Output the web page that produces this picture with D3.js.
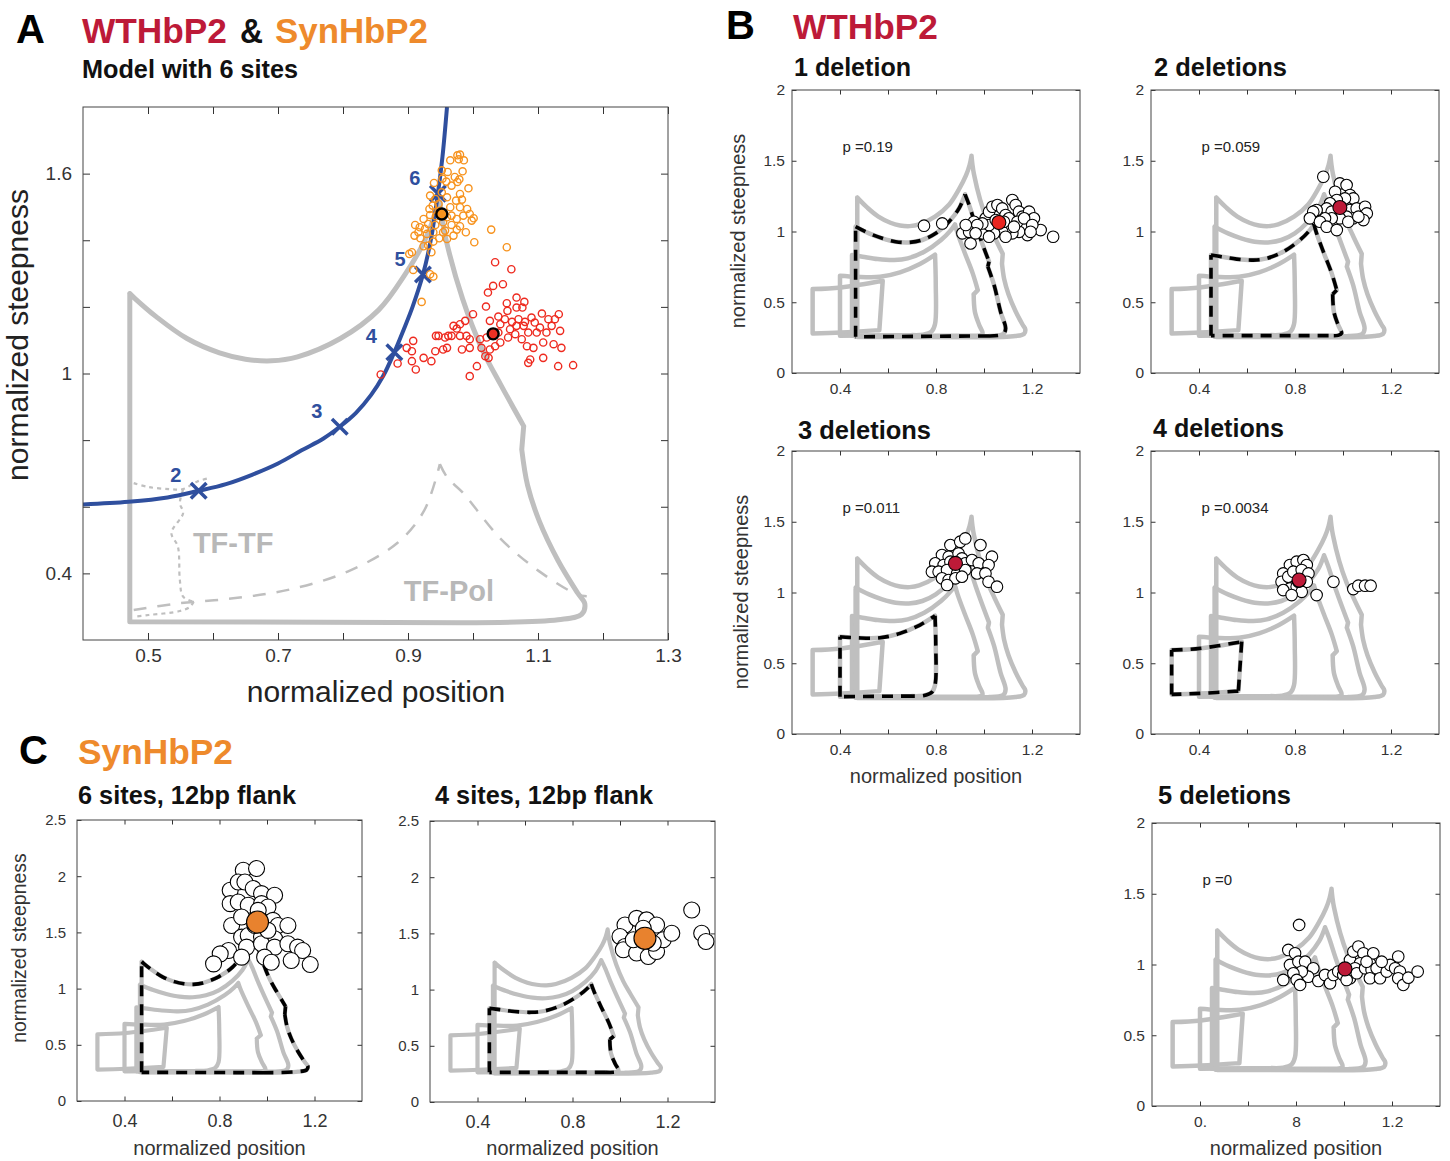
<!DOCTYPE html>
<html>
<head>
<meta charset="utf-8">
<script src="https://cdn.jsdelivr.net/npm/d3@7"></script>
<style>
  body { margin: 0; background: #fff; }
</style>
</head>
<body>
<svg id="fig" width="1450" height="1161"></svg>
<script>
// ---------- model outlines, (normalized position, normalized steepness), by number of sites
// each outline is a list of pieces; pieces meet at the corners of the outline
const outlineSites = [2, 3, 4, 5, 6];
const outline2 = [
  [[0.286,0.280],[0.286,0.593]],
  [[0.286,0.593],[0.404,0.605],[0.578,0.652]],
  [[0.578,0.652],[0.564,0.303]],
  [[0.564,0.303],[0.404,0.287],[0.286,0.280]]];
const outline3 = [
  [[0.400,0.264],[0.400,0.687]],
  [[0.400,0.687],[0.469,0.680],[0.567,0.680],[0.650,0.711],[0.733,0.770],[0.796,0.836]],
  [[0.796,0.836],[0.799,0.629],[0.796,0.346],[0.782,0.294],[0.747,0.271],[0.700,0.268]],
  [[0.700,0.268],[0.400,0.264]]];
const outline4 = [
  [[0.450,0.264],[0.450,0.834]],
  [[0.450,0.834],[0.494,0.822],[0.557,0.805],[0.626,0.798],[0.682,0.810],[0.751,0.857],[0.821,0.940],[0.862,1.010],[0.879,1.050]],
  [[0.879,1.050],[0.890,0.987],[0.918,0.857],[0.953,0.704],[0.974,0.586]],
  [[0.974,0.586],[0.957,0.556]],
  [[0.957,0.556],[0.962,0.433],[0.980,0.339],[0.994,0.280],[0.980,0.266],[0.940,0.264]],
  [[0.940,0.264],[0.450,0.264]]];
const outline5 = [
  [[0.465,0.256],[0.465,1.034]],
  [[0.465,1.034],[0.521,0.987],[0.576,0.952],[0.632,0.928],[0.687,0.923],[0.743,0.940],[0.799,0.987],[0.854,1.069],[0.896,1.163],[0.921,1.262]],
  [[0.921,1.262],[0.938,1.187],[0.965,1.046],[1.000,0.881],[1.021,0.787]],
  [[1.021,0.787],[1.016,0.751]],
  [[1.016,0.751],[1.042,0.622],[1.069,0.433],[1.090,0.315],[1.080,0.275],[1.021,0.262]],
  [[1.021,0.262],[0.465,0.256]]];
const outline6 = [
  [[0.472,0.255],[0.472,1.240]],
  [[0.472,1.240],[0.480,1.225],[0.513,1.170],[0.560,1.105],[0.610,1.062],[0.650,1.043],[0.690,1.038],[0.730,1.050],
   [0.796,1.105],[0.855,1.191],[0.896,1.299],[0.925,1.396],[0.940,1.470],[0.948,1.535]],
  [[0.948,1.535],[0.952,1.470],[0.958,1.406],[0.984,1.224],[1.014,1.073],[1.043,0.965],[1.078,0.842]],
  [[1.078,0.842],[1.075,0.772]],
  [[1.075,0.772],[1.084,0.664],[1.102,0.557],[1.131,0.438],[1.161,0.341],[1.172,0.309],[1.167,0.277],[1.131,0.261],[0.984,0.252]],
  [[0.984,0.252],[0.472,0.255]]];
const outlines = [outline2, outline3, outline4, outline5, outline6];

// ---------- panel A
const aXTicks = [0.5, 0.6, 0.7, 0.8, 0.9, 1.0, 1.1, 1.2, 1.3];
const aXTickLabels = ["0.5", "", "0.7", "", "0.9", "", "1.1", "", "1.3"];
const aYTicks = [0.4, 0.6, 0.8, 1.0, 1.2, 1.4, 1.6];
const aYTickLabels = ["0.4", "", "", "1", "", "", "1.6"];
const tfTfEdge = [
  [[0.478,0.671],[0.501,0.659],[0.533,0.653],[0.554,0.653],[0.576,0.676],[0.594,0.686]],
  [[0.554,0.651],[0.549,0.611],[0.554,0.581],[0.536,0.521],[0.546,0.480],[0.549,0.380],[0.554,0.330],[0.570,0.315]],
  [[0.570,0.315],[0.565,0.300],[0.549,0.287],[0.501,0.275],[0.478,0.270]]];
const tfPolEdge = [
  [[0.478,0.290],[0.543,0.309],[0.631,0.325],[0.719,0.352],[0.808,0.406],[0.884,0.492],[0.925,0.589],[0.949,0.728]],
  [[0.949,0.728],[0.961,0.686],[0.984,0.643],[1.043,0.503],[1.102,0.406],[1.161,0.336],[1.175,0.331]]];
const siteCurve = [[0.400,0.607],[0.470,0.615],[0.530,0.628],[0.578,0.648],[0.620,0.668],[0.660,0.696],[0.700,0.730],
  [0.737,0.770],[0.770,0.805],[0.795,0.840],[0.820,0.882],[0.843,0.935],[0.862,0.993],[0.879,1.064],[0.893,1.130],
  [0.907,1.200],[0.923,1.297],[0.935,1.400],[0.946,1.540],[0.953,1.650],[0.960,1.800]];
const siteLabels = ["2", "3", "4", "5", "6"];
const sitePos = [0.578, 0.795, 0.879, 0.923, 0.946];
const siteSteep = [0.648, 0.840, 1.064, 1.297, 1.540];
const synPoints = [[0.965,1.640],[0.976,1.655],[0.980,1.657],[0.986,1.640],[0.978,1.643],[0.984,1.607],[0.961,1.605],
  [0.972,1.590],[0.979,1.583],[0.976,1.575],[0.952,1.610],[0.953,1.585],[0.959,1.576],[0.940,1.572],[0.967,1.564],
  [0.993,1.556],[0.980,1.539],[0.952,1.544],[0.934,1.534],[0.942,1.524],[0.960,1.529],[0.974,1.519],[0.983,1.522],
  [0.947,1.509],[0.938,1.504],[0.933,1.494],[0.965,1.499],[0.980,1.499],[0.991,1.494],[0.995,1.479],[1.001,1.466],
  [0.998,1.459],[0.967,1.474],[0.960,1.469],[0.943,1.472],[0.934,1.476],[0.924,1.464],[0.911,1.446],[0.918,1.439],
  [0.931,1.449],[0.942,1.446],[0.954,1.454],[0.967,1.446],[0.980,1.442],[0.989,1.424],[0.975,1.432],[0.957,1.429],
  [0.948,1.406],[0.960,1.404],[0.910,1.414],[0.919,1.406],[0.924,1.382],[0.939,1.396],[0.931,1.384],[0.936,1.364],
  [1.002,1.394],[0.902,1.359],[0.906,1.364],[0.908,1.311],[0.934,1.298],[0.939,1.291],[0.921,1.215],[1.028,1.432],
  [1.052,1.379],[0.985,1.474],[0.975,1.464],[0.947,1.486],[0.929,1.419],[0.916,1.424],[0.926,1.434],[0.970,1.414],
  [0.954,1.424],[0.939,1.424]];
const wtPoints = [[1.034,1.334],[1.059,1.313],[1.031,1.263],[1.046,1.268],[1.023,1.243],[1.052,1.211],[1.067,1.228],
  [1.079,1.215],[1.020,1.201],[1.053,1.188],[1.067,1.198],[1.076,1.198],[1.000,1.178],[1.026,1.158],[1.039,1.171],
  [1.049,1.163],[1.060,1.155],[1.070,1.163],[1.080,1.155],[1.090,1.168],[1.095,1.153],[1.106,1.180],[1.116,1.163],
  [1.126,1.163],[1.132,1.178],[0.988,1.158],[0.980,1.148],[0.970,1.143],[0.975,1.135],[0.962,1.113],[0.947,1.113],
  [0.957,1.108],[0.967,1.113],[0.980,1.113],[0.990,1.113],[0.995,1.103],[0.983,1.072],[0.995,1.077],[0.960,1.077],
  [0.943,1.113],[1.011,1.103],[1.021,1.108],[1.013,1.077],[1.026,1.072],[1.034,1.082],[1.019,1.052],[1.024,1.047],
  [1.042,1.093],[1.054,1.108],[1.065,1.118],[1.075,1.103],[1.085,1.123],[1.098,1.123],[1.103,1.138],[1.113,1.123],
  [1.083,1.082],[1.093,1.077],[1.108,1.093],[1.124,1.088],[1.136,1.077],[1.078,1.143],[1.067,1.143],[1.057,1.133],
  [1.042,1.148],[0.954,1.072],[0.942,1.067],[0.924,1.047],[0.936,1.037],[0.906,1.067],[0.908,1.098],[0.898,1.077],
  [0.906,1.037],[0.912,1.012],[1.006,1.022],[0.995,0.992],[1.088,1.042],[1.085,1.032],[1.108,1.047],[1.131,1.022],
  [1.154,1.025],[1.134,1.128],[1.121,1.143],[1.039,1.123],[0.858,0.997],[0.884,1.030]];
const synMean = [0.952, 1.479];
const wtMean = [1.031, 1.119];

// ---------- panel B (deletions of WTHbP2)
const bTitles = ["1 deletion", "2 deletions", "3 deletions", "4 deletions", "5 deletions"];
const bPValues = ["0.19", "0.059", "0.011", "0.0034", "0"];
const bHighlightSites = [5, 4, 3, 2, null];
const bXTicks = [0.4, 0.6, 0.8, 1.0, 1.2];
const bXTickLabels = ["0.4", "", "0.8", "", "1.2"];
const b5XTickLabels = ["0.", "", "8", "", "1.2"];
const bYTicks = [0, 0.5, 1, 1.5, 2];
const bYTickLabels = ["0", "0.5", "1", "1.5", "2"];
const b1Points = [[0.750,1.041],[0.826,1.057],[0.910,0.987],[0.944,0.916],[0.958,1.069],[0.993,0.987],[1.007,1.093],
  [1.021,1.140],[1.035,1.175],[1.056,1.187],[1.076,1.163],[1.090,1.116],[1.104,1.093],[1.118,1.222],[1.132,1.187],
  [1.146,1.140],[1.160,1.105],[1.188,1.140],[1.208,1.093],[1.236,1.010],[1.288,0.963],[1.174,1.046],[1.181,0.975],
  [1.146,0.998],[1.118,0.987],[1.097,1.022],[1.076,0.998],[1.042,0.987],[1.021,1.046],[0.993,1.057],[0.972,1.046],
  [0.938,0.998],[0.924,1.046],[1.049,1.081],[1.083,1.069],[1.139,1.069],[1.167,1.093],[1.125,1.034],[1.090,0.963],
  [1.021,0.963],[0.965,0.987],[1.201,1.046],[1.194,0.998]];
const b2Points = [[0.918,1.387],[0.987,1.340],[1.015,1.328],[0.967,1.281],[1.029,1.258],[1.043,1.234],[1.008,1.234],
  [0.974,1.222],[0.946,1.199],[0.932,1.163],[0.953,1.140],[0.994,1.140],[1.029,1.152],[1.057,1.163],[1.092,1.175],
  [1.099,1.128],[1.085,1.081],[1.043,1.093],[1.015,1.105],[0.987,1.093],[0.953,1.093],[0.925,1.093],[0.890,1.152],
  [0.876,1.140],[0.862,1.093],[0.904,1.069],[0.932,1.034],[0.974,1.010],[1.022,1.069],[1.064,1.105]];
const b3Points = [[0.860,1.335],[0.901,1.359],[0.922,1.382],[0.985,1.335],[0.825,1.265],[0.853,1.253],[0.894,1.276],
  [0.908,1.241],[0.797,1.206],[0.832,1.194],[0.860,1.218],[0.922,1.206],[0.950,1.229],[0.978,1.206],[1.033,1.253],
  [1.019,1.194],[0.783,1.147],[0.811,1.147],[0.846,1.159],[0.888,1.135],[0.922,1.159],[0.971,1.135],[1.006,1.135],
  [0.825,1.100],[0.853,1.088],[0.881,1.100],[0.908,1.112],[0.846,1.053],[1.019,1.076],[1.054,1.041]];
const b4Points = [[0.779,1.194],[0.807,1.218],[0.835,1.229],[0.849,1.194],[0.751,1.135],[0.744,1.076],[0.772,1.112],
  [0.793,1.147],[0.828,1.159],[0.856,1.135],[0.849,1.076],[0.779,1.029],[0.751,1.017],[0.807,1.041],[0.828,1.005],
  [0.786,0.982],[0.814,1.076],[0.890,0.982],[0.960,1.076],[1.043,1.024],[1.064,1.048],[1.092,1.048],[1.115,1.048]];
const b5Points = [[0.813,1.280],[0.747,0.891],[0.768,1.103],[0.796,1.079],[0.775,0.997],[0.810,1.020],[0.838,1.020],
  [0.872,0.973],[0.851,0.914],[0.824,0.950],[0.789,0.938],[0.803,0.891],[0.817,0.856],[0.893,0.884],[0.921,0.926],
  [0.942,0.867],[0.956,0.926],[0.976,0.950],[0.997,0.926],[1.025,1.032],[1.039,1.091],[1.060,1.127],[1.081,1.079],
  [1.067,1.009],[1.046,0.973],[1.025,0.903],[1.011,0.891],[1.053,0.938],[1.088,0.973],[1.108,1.009],[1.122,1.079],
  [1.115,0.962],[1.136,0.973],[1.108,0.903],[1.150,0.903],[1.178,0.950],[1.192,0.997],[1.213,0.973],[1.226,1.056],
  [1.233,0.950],[1.226,0.903],[1.247,0.856],[1.268,0.907],[1.307,0.950],[1.157,1.020],[1.094,1.020]];
const bPoints = [b1Points, b2Points, b3Points, b4Points, b5Points];
const bMeans = [[1.062,1.064], [0.987,1.170], [0.881,1.206], [0.817,1.088], [1.004,0.969]];

// ---------- panel C (SynHbP2)
const cTitles = ["6 sites, 12bp flank", "4 sites, 12bp flank"];
const cHighlightSites = [6, 4];
const cYTicks = [0, 0.5, 1, 1.5, 2, 2.5];
const cYTickLabels = ["0", "0.5", "1", "1.5", "2", "2.5"];
const c1Points = [[0.900,2.053],[0.956,2.068],[0.845,1.875],[0.879,1.949],[0.907,1.949],[0.942,1.890],[0.977,1.845],
  [1.032,1.830],[0.845,1.756],[0.879,1.771],[0.921,1.741],[0.977,1.756],[1.004,1.726],[0.851,1.562],[0.893,1.637],
  [1.025,1.607],[1.046,1.562],[1.088,1.562],[0.893,1.458],[0.921,1.473],[0.977,1.458],[1.032,1.443],[0.914,1.369],
  [0.977,1.399],[1.032,1.369],[1.088,1.399],[1.129,1.369],[1.150,1.339],[0.838,1.339],[0.803,1.309],[0.775,1.220],
  [0.893,1.280],[0.990,1.280],[1.018,1.235],[1.102,1.250],[1.182,1.214],[0.963,1.696],[1.004,1.518],[0.949,1.562]];
const c2Points = [[1.021,1.575],[1.070,1.634],[1.112,1.620],[1.154,1.575],[1.000,1.472],[1.021,1.384],[1.014,1.354],
  [1.070,1.325],[1.119,1.295],[1.154,1.339],[1.182,1.443],[1.140,1.413],[1.218,1.502],[1.098,1.546],[1.056,1.443],
  [1.302,1.708],[1.344,1.502],[1.362,1.428]];
const cPoints = [c1Points, c2Points];
const cMeans = [[0.960,1.592], [1.105,1.457]];

// ---------- styling and layout
const FONT = "'Liberation Sans', Arial, Helvetica, sans-serif";
const CRIMSON = "#bd1a38", ORANGE = "#ee8a2c", BLUE = "#2f4f9e", GREY = "#bfbfbf";
const svg = d3.select("#fig");
svg.append("rect").attr("width", 1450).attr("height", 1161).attr("fill", "#fff");

let clipCount = 0;
function makePanel(box, xDomain, yDomain) {
  const x = d3.scaleLinear().domain(xDomain).range([box.left, box.left + box.width]);
  const y = d3.scaleLinear().domain(yDomain).range([box.top + box.height, box.top]);
  const id = "clip" + (clipCount++);
  svg.append("clipPath").attr("id", id).append("rect")
    .attr("x", box.left).attr("y", box.top).attr("width", box.width).attr("height", box.height);
  const g = svg.append("g");
  const plot = g.append("g").attr("clip-path", `url(#${id})`);
  // smooth within a piece, sharp corners between pieces
  const seg = d3.line().x(d => x(d[0])).y(d => y(d[1])).curve(d3.curveCatmullRom.alpha(0.5));
  const pieces = list => list.map(seg).join("");
  return { g, plot, x, y, box, seg, pieces };
}

function drawAxes(p, ax) {
  const { g, x, y, box } = p;
  const bottom = g.append("g").attr("transform", `translate(0,${box.top + box.height})`)
    .call(d3.axisBottom(x).tickValues(ax.xTicks).tickSizeInner(-ax.tick).tickSizeOuter(0)
      .tickPadding(ax.xPad).tickFormat((d, i) => ax.xLabels[i]));
  const top = g.append("g").attr("transform", `translate(0,${box.top})`)
    .call(d3.axisTop(x).tickValues(ax.xTicks).tickSizeInner(-ax.tick).tickSizeOuter(0).tickFormat(""));
  const left = g.append("g").attr("transform", `translate(${box.left},0)`)
    .call(d3.axisLeft(y).tickValues(ax.yTicks).tickSizeInner(-ax.tick).tickSizeOuter(0)
      .tickPadding(ax.yPad).tickFormat((d, i) => ax.yLabels[i]));
  const right = g.append("g").attr("transform", `translate(${box.left + box.width},0)`)
    .call(d3.axisRight(y).tickValues(ax.yTicks).tickSizeInner(-ax.tick).tickSizeOuter(0).tickFormat(""));
  [bottom, top, left, right].forEach(a => {
    a.select(".domain").remove();
    a.attr("font-family", FONT).attr("color", "#333");
  });
  bottom.attr("font-size", ax.xFont);
  left.attr("font-size", ax.yFont);
  g.append("rect").attr("x", box.left).attr("y", box.top)
    .attr("width", box.width).attr("height", box.height)
    .attr("fill", "none").attr("stroke", "#444").attr("stroke-width", 1);
}

function text(str, x, y, size, opts = {}) {
  const t = svg.append("text").attr("x", x).attr("y", y)
    .attr("font-family", FONT).attr("font-size", size)
    .attr("font-weight", opts.bold ? "bold" : "normal")
    .attr("fill", opts.color || "#111")
    .attr("text-anchor", opts.anchor || "start")
    .text(str);
  if (opts.len) t.attr("textLength", opts.len).attr("lengthAdjust", "spacingAndGlyphs");
  if (opts.rotate) t.attr("transform", `rotate(-90,${x},${y})`);
  return t;
}

// ---------- headings
text("A", 16, 43, 40, { bold: true, color: "#000" });
text("WTHbP2", 82, 43, 35, { bold: true, color: CRIMSON, len: 145 });
text("&", 240, 43, 35, { bold: true, color: "#111", len: 23 });
text("SynHbP2", 275, 43, 35, { bold: true, color: ORANGE, len: 153 });
text("Model with 6 sites", 82, 78, 25, { bold: true, len: 216 });
text("B", 726, 39, 40, { bold: true, color: "#000" });
text("WTHbP2", 793, 39, 35, { bold: true, color: CRIMSON, len: 145 });
text("C", 19, 764, 40, { bold: true, color: "#000" });
text("SynHbP2", 78, 764, 35, { bold: true, color: ORANGE, len: 155 });

// ---------- panel A
const pA = makePanel({ left: 83, top: 107, width: 585, height: 533 }, [0.4, 1.3], [0.2, 1.8]);
pA.plot.append("path").attr("d", pA.pieces(outline6))
  .attr("fill", "none").attr("stroke", GREY).attr("stroke-width", 5)
  .attr("stroke-linejoin", "round").attr("stroke-linecap", "round");
pA.plot.append("path").attr("d", pA.pieces(tfTfEdge))
  .attr("fill", "none").attr("stroke", GREY).attr("stroke-width", 2.2).attr("stroke-dasharray", "4,4");
pA.plot.append("path").attr("d", pA.pieces(tfPolEdge))
  .attr("fill", "none").attr("stroke", GREY).attr("stroke-width", 2.5).attr("stroke-dasharray", "13,11");
pA.plot.append("text").attr("x", pA.x(0.631)).attr("y", pA.y(0.461))
  .attr("font-family", FONT).attr("font-size", 29).attr("font-weight", "bold")
  .attr("fill", "#b8b8b8").attr("text-anchor", "middle").text("TF-TF");
pA.plot.append("text").attr("x", pA.x(0.963)).attr("y", pA.y(0.317))
  .attr("font-family", FONT).attr("font-size", 29).attr("font-weight", "bold")
  .attr("fill", "#b8b8b8").attr("text-anchor", "middle").text("TF-Pol");
pA.plot.append("path").attr("d", pA.seg(siteCurve))
  .attr("fill", "none").attr("stroke", BLUE).attr("stroke-width", 4);
pA.plot.selectAll("path.site").data(siteLabels).join("path").attr("class", "site")
  .attr("d", d3.symbol(d3.symbolTimes, 160))
  .attr("transform", (d, i) => `translate(${pA.x(sitePos[i])},${pA.y(siteSteep[i])})`)
  .attr("fill", "none").attr("stroke", BLUE).attr("stroke-width", 3.5);
pA.plot.selectAll("text.site").data(siteLabels).join("text").attr("class", "site")
  .attr("x", (d, i) => pA.x(sitePos[i]) - 23).attr("y", (d, i) => pA.y(siteSteep[i]) - 16)
  .attr("dy", "0.35em").attr("text-anchor", "middle")
  .attr("font-family", FONT).attr("font-size", 20).attr("font-weight", "bold").attr("fill", BLUE)
  .text(d => d);
pA.plot.selectAll("circle.syn").data(synPoints).join("circle").attr("class", "syn")
  .attr("cx", d => pA.x(d[0])).attr("cy", d => pA.y(d[1])).attr("r", 3.6)
  .attr("fill", "none").attr("stroke", "#f7931e").attr("stroke-width", 1.4);
pA.plot.selectAll("circle.wt").data(wtPoints).join("circle").attr("class", "wt")
  .attr("cx", d => pA.x(d[0])).attr("cy", d => pA.y(d[1])).attr("r", 3.6)
  .attr("fill", "none").attr("stroke", "#ee2a1f").attr("stroke-width", 1.4);
[[synMean, "#f7931e"], [wtMean, "#ee3124"]].forEach(([m, c]) => {
  pA.plot.append("circle").attr("cx", pA.x(m[0])).attr("cy", pA.y(m[1])).attr("r", 5.5)
    .attr("fill", c).attr("stroke", "#000").attr("stroke-width", 2.4);
});
drawAxes(pA, { xTicks: aXTicks, xLabels: aXTickLabels, yTicks: aYTicks, yLabels: aYTickLabels,
  tick: 7, xPad: 9, yPad: 11, xFont: 19, yFont: 19 });
text("normalized position", 376, 702, 30, { anchor: "middle", color: "#222" });
text("normalized steepness", 28, 335, 30, { anchor: "middle", color: "#222", rotate: true });

// ---------- small panels (B and C)
function smallPanel(box, yDomain, ax, pts, mean, meanColor, highlight, r, meanR, outlineW) {
  const p = makePanel(box, [0.2, 1.4], yDomain);
  outlines.forEach(o => {
    p.plot.append("path").attr("d", p.pieces(o))
      .attr("fill", "none").attr("stroke", GREY).attr("stroke-width", outlineW)
      .attr("stroke-linejoin", "round").attr("stroke-linecap", "round");
  });
  if (highlight != null) {
    p.plot.append("path").attr("d", p.pieces(outlines[outlineSites.indexOf(highlight)]))
      .attr("fill", "none").attr("stroke", "#000").attr("stroke-width", 3.6).attr("stroke-dasharray", "11,8");
  }
  p.plot.selectAll("circle.pt").data(pts).join("circle").attr("class", "pt")
    .attr("cx", d => p.x(d[0])).attr("cy", d => p.y(d[1])).attr("r", r)
    .attr("fill", "#fff").attr("stroke", "#000").attr("stroke-width", 1.1);
  p.plot.append("circle").attr("cx", p.x(mean[0])).attr("cy", p.y(mean[1])).attr("r", meanR)
    .attr("fill", meanColor).attr("stroke", "#000").attr("stroke-width", 1.1);
  drawAxes(p, ax);
  return p;
}

const bLayout = [
  { left: 792, top: 90, tx: 794, ty: 76, tlen: 117 },
  { left: 1151, top: 90, tx: 1154, ty: 76, tlen: 133 },
  { left: 792, top: 451, tx: 798, ty: 439, tlen: 133 },
  { left: 1151, top: 451, tx: 1153, ty: 437, tlen: 131 },
  { left: 1152, top: 823, tx: 1158, ty: 804, tlen: 133 }
];
const bMeanColors = ["#e8251f", CRIMSON, CRIMSON, CRIMSON, CRIMSON];
bTitles.forEach((t, i) => {
  const L = bLayout[i];
  const p = smallPanel({ left: L.left, top: L.top, width: 288, height: 283 }, [0, 2],
    { xTicks: bXTicks, xLabels: i === 4 ? b5XTickLabels : bXTickLabels, yTicks: bYTicks, yLabels: bYTickLabels,
      tick: 4.5, xPad: 10, yPad: 7, xFont: 15.5, yFont: 15.5 },
    bPoints[i], bMeans[i], bMeanColors[i], bHighlightSites[i], 5.8, 7, 4.5);
  text(t, L.tx, L.ty, 25, { bold: true, len: L.tlen });
  text("p =" + bPValues[i], p.x(0.41), p.y(1.6) + 5, 15, { color: "#222" });
});
text("normalized steepness", 745, 231, 20, { anchor: "middle", color: "#333", rotate: true });
text("normalized steepness", 748, 592, 20, { anchor: "middle", color: "#333", rotate: true });
text("normalized position", 936, 783, 20, { anchor: "middle", color: "#333" });
text("normalized position", 1296, 1155, 20, { anchor: "middle", color: "#333" });

const cLayout = [
  { left: 77, top: 820, tx: 78, ty: 804 },
  { left: 430, top: 821, tx: 435, ty: 804 }
];
cTitles.forEach((t, i) => {
  const L = cLayout[i];
  const p = smallPanel({ left: L.left, top: L.top, width: 285, height: 281 }, [0, 2.5],
    { xTicks: bXTicks, xLabels: bXTickLabels, yTicks: cYTicks, yLabels: cYTickLabels,
      tick: 4.5, xPad: 13, yPad: 11, xFont: 18, yFont: 15 },
    cPoints[i], cMeans[i], "#e8822e", cHighlightSites[i], 8, 11, 4.2);
  text(t, L.tx, L.ty, 25, { bold: true, len: 218 });
  text("normalized position", (L.left + L.left + 285) / 2, 1155, 20, { anchor: "middle", color: "#333" });
});
text("normalized steepness", 26, 948, 19.5, { anchor: "middle", color: "#333", rotate: true });
</script>
</body>
</html>
